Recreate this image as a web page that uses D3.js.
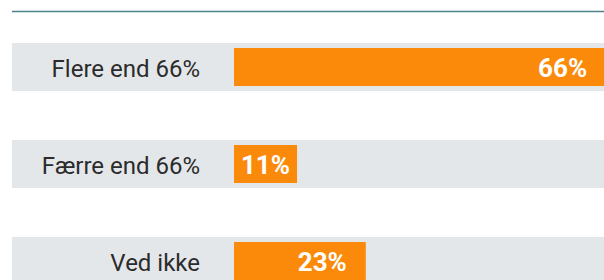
<!DOCTYPE html>
<html>
<head>
<meta charset="utf-8">
<script src="https://cdn.jsdelivr.net/npm/d3@7"></script>
<style>
  body { margin: 0; background: #fff; overflow: hidden; }
  svg { display: block; }
</style>
</head>
<body>
<div id="chart"></div>
<script>
var categories = ["Flere end 66%", "Færre end 66%", "Ved ikke"];
var values = [66, 11, 23];
var valueLabels = ["66%", "11%", "23%"];

var svgWidth = 604;
var svgHeight = 280;

var svg = d3.select("#chart")
  .append("svg")
  .attr("width", svgWidth)
  .attr("height", svgHeight);

// rows
var y = d3.scaleBand()
  .domain(categories)
  .range([43, 43 + 97 * 3])
  .paddingInner(0);

var x = d3.scaleLinear()
  .domain([0, 100])
  .range([234, 234 + 573]);

var bgH = 48;
var barOff = 5;
var barH = 38;
var labelPad = [25, 7, 19];

// top rule
svg.append("line")
  .attr("x1", 12)
  .attr("x2", svgWidth)
  .attr("y1", 11.5)
  .attr("y2", 11.5)
  .attr("stroke", "#4b858b")
  .attr("stroke-width", 1.5);

var rows = svg.selectAll(".row")
  .data(categories)
  .enter()
  .append("g")
  .attr("class", "row")
  .attr("transform", d => `translate(0, ${y(d)})`);

rows.append("rect")
  .attr("x", 12)
  .attr("y", 0)
  .attr("width", svgWidth - 12)
  .attr("height", bgH)
  .attr("fill", "#e4e7ea");

rows.append("rect")
  .attr("x", x(0))
  .attr("y", barOff)
  .attr("width", (d, i) => x(values[i]) - x(0))
  .attr("height", barH)
  .attr("fill", "#fb8a0b");

rows.append("text")
  .attr("x", 200)
  .attr("y", barOff + barH / 2)
  .attr("dy", "0.4em")
  .attr("text-anchor", "end")
  .attr("font-family", "Roboto, 'DejaVu Sans', sans-serif")
  .attr("font-size", "24px")
  .attr("fill", "#2b2b2b")
  .text(d => d);

rows.append("text")
  .attr("x", (d, i) => x(values[i]) - labelPad[i])
  .attr("y", barOff + barH / 2)
  .attr("dy", "0.37em")
  .attr("text-anchor", "end")
  .attr("font-family", "Roboto, 'DejaVu Sans', sans-serif")
  .attr("font-weight", "bold")
  .attr("font-size", "26px")
  .attr("fill", "#ffffff")
  .text((d, i) => valueLabels[i]);
</script>
</body>
</html>
